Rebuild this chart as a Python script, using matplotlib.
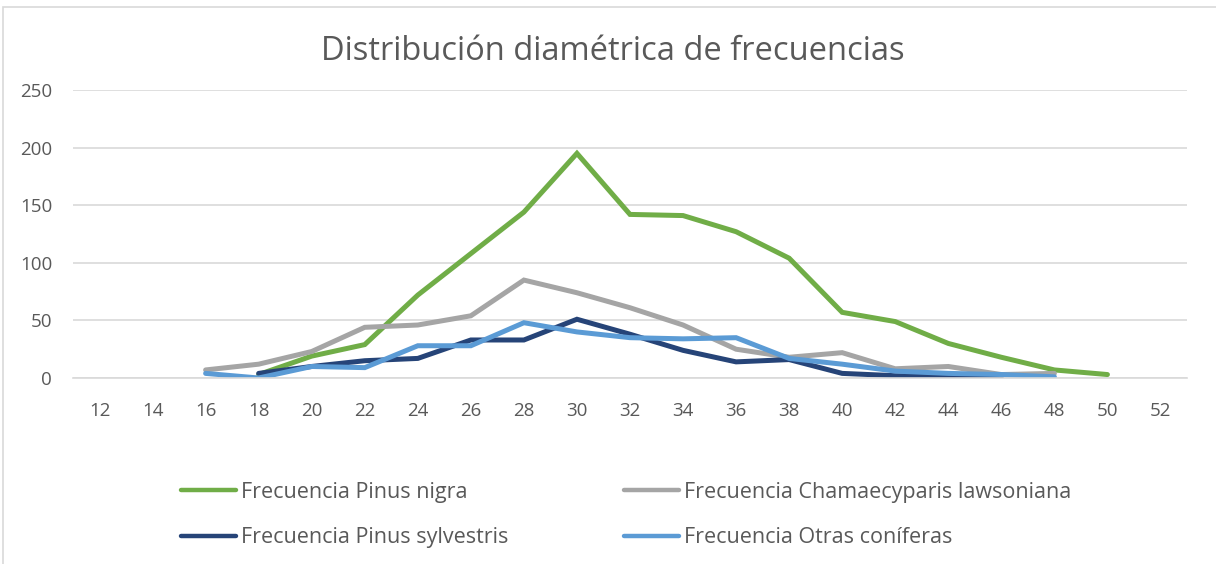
import matplotlib
matplotlib.use("Agg")
import matplotlib.pyplot as plt
from matplotlib.patches import Rectangle
import numpy as np

categories = [12, 14, 16, 18, 20, 22, 24, 26, 28, 30, 32, 34, 36, 38, 40, 42, 44, 46, 48, 50, 52]
nan = np.nan
pinus_nigra = [nan, nan, nan, 3, 19, 29, 72, 108, 144, 195, 142, 141, 127, 104, 57, 49, 30, 18, 7, 3, nan]
chamaecyparis = [nan, nan, 7, 12, 23, 44, 46, 54, 85, 74, 61, 46, 25, 18, 22, 8, 10, 3, 4, nan, nan]
pinus_sylvestris = [nan, nan, nan, 4, 10, 15, 17, 33, 33, 51, 38, 24, 14, 16, 4, 2, 1, 1, nan, nan, nan]
otras = [nan, nan, 4, 0, 10, 9, 28, 28, 48, 40, 35, 34, 35, 17, 12, 6, 4, 3, 1, nan, nan]

series = [
    ("Frecuencia Pinus nigra", pinus_nigra, "#70AD47"),
    ("Frecuencia Pinus sylvestris", pinus_sylvestris, "#264478"),
    ("Frecuencia Chamaecyparis lawsoniana", chamaecyparis, "#A5A5A5"),
    ("Frecuencia Otras coníferas", otras, "#5B9BD5"),
]
draw_order = [0, 2, 1, 3]

plt.rcParams['font.family'] = ['Open Sans', 'DejaVu Sans']
W, H = 1216, 564
fig = plt.figure(figsize=(W / 100, H / 100), dpi=100)
ax = fig.add_axes([73 / W, 1 - 378 / H, (1187 - 73) / W, (378 - 90) / H])

x = np.arange(len(categories))
handles = {}
for i in draw_order:
    name, vals, col = series[i]
    h, = ax.plot(x, vals, color=col, lw=3.6, solid_capstyle='round', solid_joinstyle='miter', label=name)
    handles[i] = h

ax.set_xlim(-0.5, len(categories) - 0.5)
ax.set_ylim(0, 250)
ax.set_yticks([0, 50, 100, 150, 200, 250])
ax.set_xticks(x)
ax.set_xticklabels([str(c) for c in categories])
ax.grid(axis='y', color='#D9D9D9', lw=1.2)
ax.set_axisbelow(True)
for s in ['top', 'right', 'left']:
    ax.spines[s].set_visible(False)
ax.spines['bottom'].set_color('#D9D9D9')
ax.spines['bottom'].set_linewidth(1.2)
ax.tick_params(axis='both', length=0, labelsize=13.5, colors='#595959')
ax.tick_params(axis='x', pad=17)
ax.tick_params(axis='y', pad=15)

fig.text(613 / W, 1 - 52 / H, "Distribución diamétrica de frecuencias", ha='center', va='center',
         fontsize=23.5, color='#595959')

leg = fig.legend([handles[i] for i in range(4)], [series[i][0] for i in range(4)],
                 ncol=2, loc='center', bbox_to_anchor=(626 / W, 1 - 515 / H),
                 frameon=False, fontsize=15.5, labelcolor='#595959',
                 handlelength=2.56, handletextpad=0.23, columnspacing=5.4, labelspacing=1.15)
for ln in leg.get_lines():
    ln.set_linewidth(3.2)

fig.patches.append(Rectangle((3 / W, -0.1), 1.2, 1 - 7 / H + 0.1, transform=fig.transFigure,
                             fill=False, edgecolor='#D9D9D9', lw=1.2))

fig.savefig("out.png", dpi=100, facecolor='white')
